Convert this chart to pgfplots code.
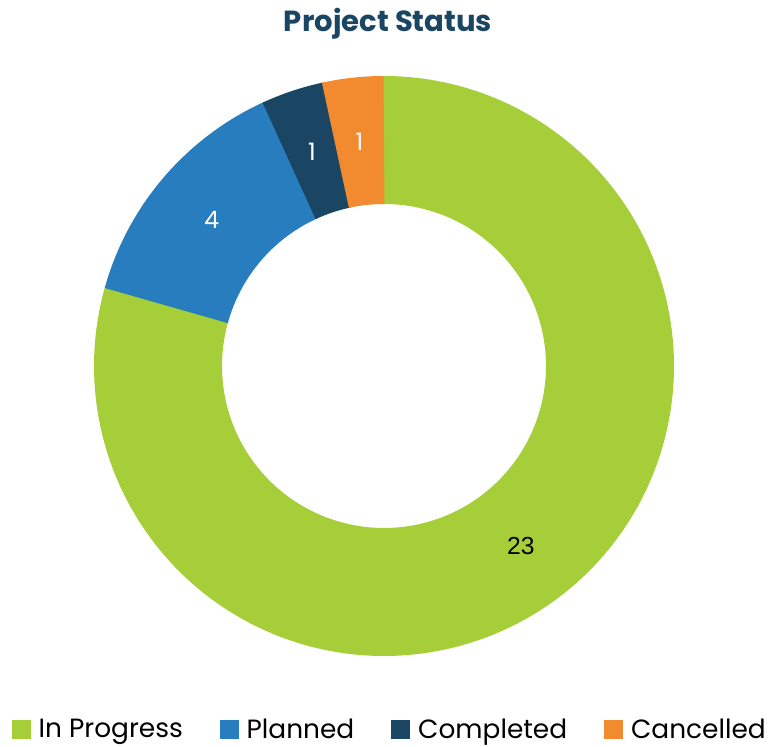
\documentclass[border=0pt]{standalone}
\usepackage{pgfplots}
\usepackage{pgfplotstable}
\pgfplotsset{compat=1.18}
\usepackage{fontspec}
\setmainfont{Poppins}
\newfontfamily\arialf{Liberation Sans}
\definecolor{cgreen}{HTML}{A6CE39}
\definecolor{cblue}{HTML}{277DBD}
\definecolor{cnavy}{HTML}{1A4664}
\definecolor{corange}{HTML}{F28A30}
\definecolor{ctitle}{HTML}{1A4664}

\pgfplotstableread{
status value
InProgress 23
Planned 4
Completed 1
Cancelled 1
}\datatable

\begin{document}
\begin{tikzpicture}
\pgfplotstablegetelem{0}{value}\of\datatable \let\vA=\pgfplotsretval
\pgfplotstablegetelem{1}{value}\of\datatable \let\vB=\pgfplotsretval
\pgfplotstablegetelem{2}{value}\of\datatable \let\vC=\pgfplotsretval
\pgfplotstablegetelem{3}{value}\of\datatable \let\vD=\pgfplotsretval
\pgfmathsetmacro\tot{\vA+\vB+\vC+\vD}
\pgfmathsetmacro\eA{360*\vA/\tot}
\pgfmathsetmacro\eB{\eA+360*\vB/\tot}
\pgfmathsetmacro\eC{\eB+360*\vC/\tot}
\pgfmathsetmacro\eD{\eC+360*\vD/\tot}
\pgfmathsetmacro\mA{90-\eA/2}
\pgfmathsetmacro\mB{90-(\eA+\eB)/2}
\pgfmathsetmacro\mC{90-(\eB+\eC)/2}
\pgfmathsetmacro\mD{90-(\eC+\eD)/2}
\pgfmathsetmacro\xA{\eA+0.4}
\pgfmathsetmacro\xB{\eB+0.4}
\pgfmathsetmacro\xC{\eC+0.4}
\begin{axis}[
  scale only axis, width=577.5pt, height=559.5pt,
  xmin=0, xmax=770, ymin=0, ymax=746,
  hide axis, clip=false,
  legend columns=4,
  legend style={draw=none, fill=none, at={(axis cs:390,16.5)}, anchor=center,
    inner sep=0pt, nodes={inner ysep=0.5pt},
    font=\fontsize{19.8}{22}\selectfont,
    /tikz/every even column/.append style={column sep=25.5pt},
    /tikz/every odd column/.append style={column sep=4.5pt}},
  legend image code/.code={\fill[#1] (0pt,-6.5pt) rectangle (13.5pt,7pt);},
]
\addplot[forget plot, draw=cgreen, line width=96pt, domain=-0.4:\xA, samples=240] ({384+226*cos(90-x)},{380+226*sin(90-x)});
\addplot[forget plot, draw=cblue, line width=96pt, domain=\eA:\xB, samples=60] ({384+226*cos(90-x)},{380+226*sin(90-x)});
\addplot[forget plot, draw=cnavy, line width=96pt, domain=\eB:\xC, samples=20] ({384+226*cos(90-x)},{380+226*sin(90-x)});
\addplot[forget plot, draw=corange, line width=96pt, domain=\eC:\eD, samples=20] ({384+226*cos(90-x)},{380+226*sin(90-x)});
\addlegendimage{cgreen}\addlegendentry{In Progress}
\addlegendimage{cblue}\addlegendentry{Planned}
\addlegendimage{cnavy}\addlegendentry{Completed}
\addlegendimage{corange}\addlegendentry{Cancelled}
\node[font=\arialf\fontsize{18.5}{20}\selectfont, text=black] at (axis cs:{384+226*cos(\mA)},{380+226*sin(\mA)}) {23};
\node[font=\fontsize{18}{20}\selectfont, text=white] at (axis cs:{384+226*cos(\mB)},{380+226*sin(\mB)}) {4};
\node[font=\fontsize{18}{20}\selectfont, text=white] at (axis cs:{384+226*cos(\mC)},{380+226*sin(\mC)}) {1};
\node[font=\fontsize{18}{20}\selectfont, text=white] at (axis cs:{384+226*cos(\mD)},{380+226*sin(\mD)}) {1};
\node[anchor=base, font=\bfseries\fontsize{21.8}{26}\selectfont, text=ctitle] at (axis cs:388,714) {Project Status};
\end{axis}
\pgfresetboundingbox
\useasboundingbox (0,0) rectangle (577.5pt,559.5pt);
\end{tikzpicture}
\end{document}
